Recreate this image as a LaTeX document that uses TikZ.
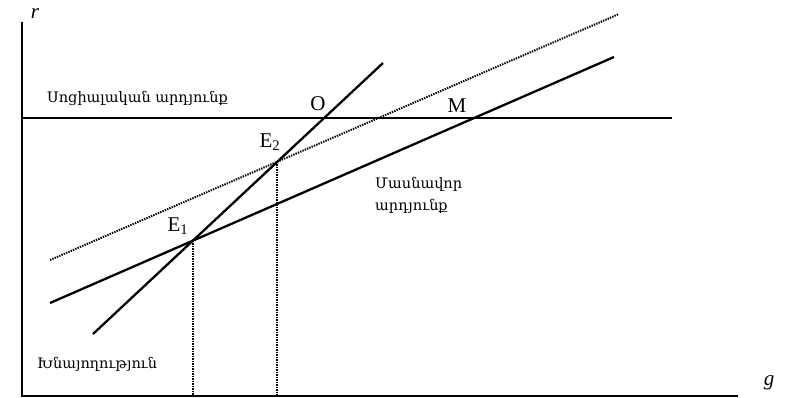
\documentclass[tikz,border=0pt]{standalone}
\usepackage{fontspec}
\setmainfont{Liberation Serif}
\newfontfamily\armfont{DejaVu Serif}
\begin{document}
\begin{tikzpicture}[x=1pt,y=-1pt,
  axisline/.style={line width=2.8pt},
  curve/.style={line width=2.3pt},
  dotline/.style={line width=2pt, dash pattern=on 1.4pt off 1.1pt},
  armtext/.style={font=\armfont\fontsize{14.5}{22}\selectfont, inner sep=0pt, anchor=west, align=left},
  ptlabel/.style={font=\fontsize{21}{23}\selectfont, inner sep=0pt},
  axlabel/.style={font=\itshape\fontsize{21}{23}\selectfont, inner sep=0pt}]
\useasboundingbox (0,0) rectangle (787,398);
% coordinates
\coordinate (ytop) at (22,22);
\coordinate (orig) at (22,396);
\coordinate (xend) at (738,396);
\coordinate (sL) at (22,118);
\coordinate (sR) at (672,118);
\coordinate (svA) at (93,334);
\coordinate (svB) at (383,63);
\coordinate (pA) at (50,303);
\coordinate (pB) at (614,57);
\coordinate (dA) at (50,260);
\coordinate (dB) at (619,14);
\coordinate (E1) at (intersection of svA--svB and pA--pB);
\coordinate (E2) at (intersection of svA--svB and dA--dB);
\coordinate (O) at (intersection of svA--svB and sL--sR);
\coordinate (M) at (intersection of pA--pB and sL--sR);
% axes
\draw[axisline] (ytop) -- (orig) -- (xend);
\node[axlabel] (rlab) at (35,14) {r};
\node[axlabel] (glab) at (769,383) {g};
% lines
\draw[curve] (sL) -- (sR);
\draw[curve] (svA) -- (svB);
\draw[curve] (pA) -- (pB);
\draw[dotline] (dA) -- (dB);
\draw[dotline] (E1) -- (E1 |- orig);
\draw[dotline] (E2) -- (E2 |- orig);
% labels
\node[ptlabel] (E1lab) at (178,226) {E\textsubscript{1}};
\node[ptlabel] (E2lab) at (270,142) {E\textsubscript{2}};
\node[ptlabel] (Olab) at (318,104) {O};
\node[ptlabel] (Mlab) at (457,106) {M};
\node[armtext] (social) at (47,99) {Սոցիալական արդյունք};
\node[armtext] (private) at (375,195) {Մասնավոր\\արդյունք};
\node[armtext] (saving) at (37,364) {Խնայողություն};
\end{tikzpicture}
\end{document}
